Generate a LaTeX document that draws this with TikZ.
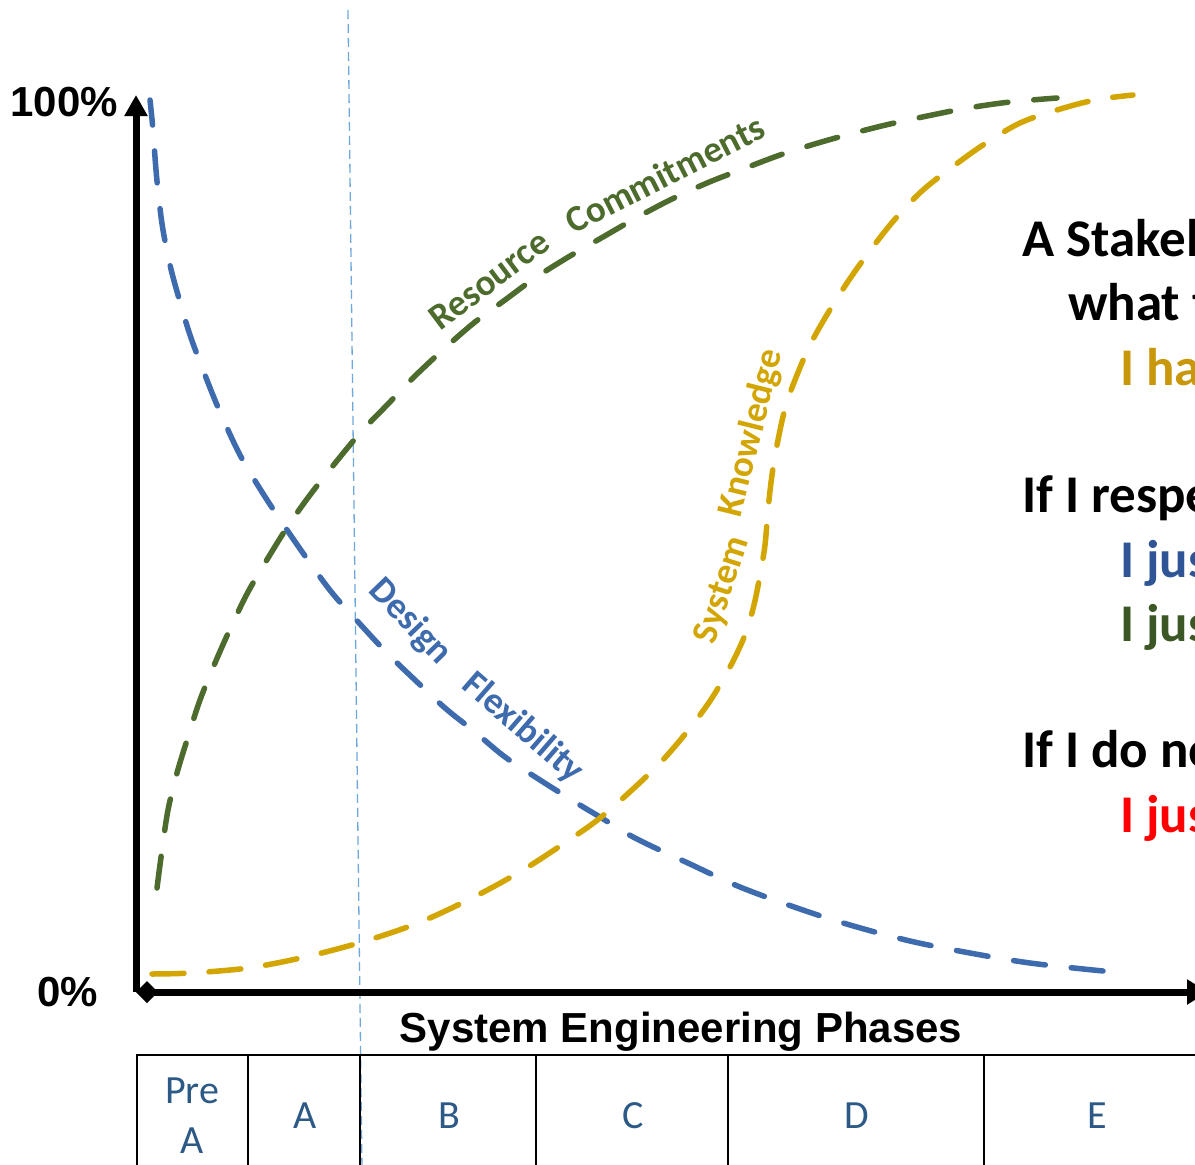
\documentclass[tikz,border=0pt]{standalone}
\usepackage{fontspec}
\setmainfont{Carlito}
\newfontfamily\arialfont{Liberation Sans}
\usetikzlibrary{arrows.meta}
\definecolor{cblue}{HTML}{3D6BAD}
\definecolor{cgreen}{HTML}{4C6B2C}
\definecolor{cgold}{HTML}{D3A500}
\definecolor{tgold}{HTML}{C9980A}
\definecolor{tblue}{HTML}{2F5597}
\definecolor{tgreen}{HTML}{3A5725}
\definecolor{cellblue}{HTML}{2C5986}
\definecolor{vline}{HTML}{6FA8DC}
\begin{document}
\begin{tikzpicture}[x=1pt,y=-1pt,
  curve/.style={line width=5.5pt, line cap=round, dash pattern=on 32pt off 26pt},
  axisline/.style={line width=7pt},
  gridline/.style={line width=2.5pt},
  lbl/.style={font=\bfseries\fontsize{37}{42}\selectfont, inner sep=0pt},
  side/.style={font=\bfseries\fontsize{53}{60}\selectfont, anchor=base west, inner sep=0pt},
  cell/.style={font=\fontsize{40}{48}\selectfont, text=cellblue, inner sep=0pt, anchor=base},
  big/.style={font=\arialfont\bfseries\fontsize{42}{50}\selectfont, inner sep=0pt}
]
\path[use as bounding box] (0,0) rectangle (1195,1165);
\clip (0,0) rectangle (1195,1165);
\fill[white] (0,0) rectangle (1195,1165);

% coordinates
\coordinate (O) at (136,992);
\coordinate (Ytop) at (136,95);
\coordinate (Xend) at (1208,992);
\coordinate (Vtop) at (348,10);
\coordinate (Vbot) at (362,1170);

% vertical dashed reference line
\draw[vline, line width=1.3pt, dash pattern=on 9pt off 5pt] (Vtop) -- (Vbot);

% table
\coordinate (T0) at (136,1055);
\coordinate (T1) at (1200,1055);
\draw[gridline] (T0) -- (T1);
\foreach \xx in {137,248,360,536,728,984}{
  \draw[gridline] (\xx,1055) -- (\xx,1170);
}
\node[cell] (pre) at (192,1103) {Pre};
\node[cell] (prea) at (192,1153) {A};
\node[cell] (ca) at (305,1128) {A};
\node[cell] (cb) at (449,1128) {B};
\node[cell] (cc) at (633,1128) {C};
\node[cell] (cd) at (857,1128) {D};
\node[cell] (ce) at (1097,1128) {E};

% curves
\draw[curve, cblue] plot[smooth, tension=0.55] coordinates {
 (1103,971) (1030,963) (970,953) (910,941) (850,925) (800,909) (740,887) (690,864)
 (635,838) (600,817) (575,802) (540,780) (505,757) (475,732) (445,708) (415,680)
 (387,653) (360,624) (333,594) (310,563) (285,527) (262,492) (240,455) (220,412)
 (205,375) (190,335) (178,295) (170,265) (163,230) (159,200) (156,170) (153,130) (150,100)};

\draw[curve, cgreen] plot[smooth, tension=0.55] coordinates {
 (157,888) (162,850) (168,810) (177,773) (188,737) (200,700) (215,663) (231,627)
 (248,592) (268,558) (288,526) (310,495) (336,462) (361,432) (388,404) (415,376)
 (445,348) (475,322) (505,300) (535,278) (570,256) (603,237) (636,218) (670,200)
 (707,183) (743,169) (780,155) (818,143) (854,133) (890,124) (932,115) (968,108)
 (1010,102) (1057,98)};

\draw[curve, cgold, dash pattern=on 32pt off 25pt] plot[smooth, tension=0.55] coordinates {
 (152,974) (190,973) (248,968) (305,957) (362,942) (418,923) (472,898) (523,870)
 (572,838) (600,818) (633,789) (661,762) (686,733) (710,701) (730,667) (745,635)
 (754,605) (760,575) (765,545) (768,510) (772,475) (778,440) (786,405) (797,375)
 (810,345) (828,313) (849,280) (872,248) (896,218) (923,190) (955,165) (986,143)
 (1020,123) (1057,110) (1095,100) (1133,95)};

% curve labels
\node[lbl, text=cgreen, rotate=37] (res) at (489,280) {Resource};
\node[lbl, text=cgreen, rotate=27] (com) at (665,174) {Commitments};
\node[lbl, text=cblue, rotate=-46] (des) at (410,622) {Design};
\node[lbl, text=cblue, rotate=-41] (flex) at (523,728) {Flexibility};
\node[lbl, text=cgold, rotate=72] (sys) at (723,590) {System};
\node[lbl, text=cgold, rotate=76] (know) at (752,433) {Knowledge};

% axes
\draw[axisline, {Diamond[length=22pt,width=22pt]}-{Triangle[length=21pt,width=24pt]}] (O) -- (Xend);
\draw[axisline, -{Triangle[length=21pt,width=22pt]}] (O) -- (Ytop);

\node[big, anchor=base east] (p100) at (118,116) {100\%};
\node[big, anchor=base east] (p0) at (98,1006) {0\%};
\node[big, anchor=base] (title) at (681,1042) {System Engineering Phases};

% side text
\node[side] (s1) at (1022,256) {A Stakeholder};
\node[side] (s2) at (1068,320) {what they};
\node[side, text=tgold] (s3) at (1120,385) {I have};
\node[side] (s4) at (1022,512) {If I respect};
\node[side, text=tblue] (s5) at (1120,577) {I just};
\node[side, text=tgreen] (s6) at (1120,641) {I just};
\node[side] (s7) at (1022,767) {If I do not};
\node[side, text=red] (s8) at (1120,832) {I just};
\end{tikzpicture}
\end{document}
